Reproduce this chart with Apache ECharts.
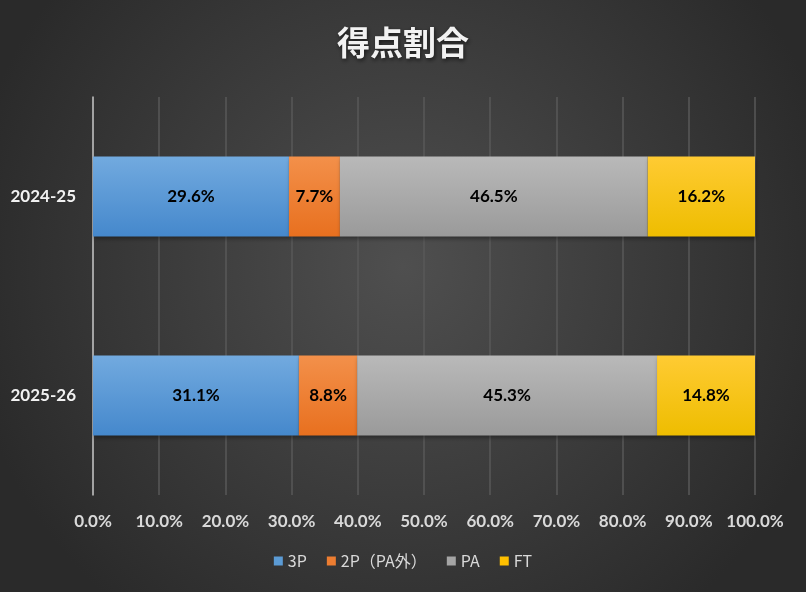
<!DOCTYPE html>
<html><head><meta charset="utf-8">
<script src="https://cdn.jsdelivr.net/npm/echarts@6/dist/echarts.min.js"></script>
<style>html,body{margin:0;padding:0;background:#404040;}#c{width:806px;height:592px;}</style>
</head><body><div id="c"></div>
<script>
const categories = ['2024-25', '2025-26'];
const seriesNames = ['3P', '2P（PA外）', 'PA', 'FT'];
const s3P = [29.6, 31.1];
const s2P = [7.7, 8.8];
const sPA = [46.5, 45.3];
const sFT = [16.2, 14.8];
const xTicks = [0, 10, 20, 30, 40, 50, 60, 70, 80, 90, 100];

const values = [s3P, s2P, sPA, sFT];
const colorsTop = ['#72aadf', '#f3904a', '#b9b9b9', '#ffcb33'];
const colorsBot = ['#4588cc', '#e8701f', '#9a9a9a', '#eebd00'];
const legendColors = ['#5b9bd5', '#ed7d31', '#a5a5a5', '#ffc000'];
const numFont = 'Lato';

const chart = echarts.init(document.getElementById('c'));
chart.setOption({
  backgroundColor: {
    type: 'radial', x: 0.5, y: 0.45, r: 0.75,
    colorStops: [{offset: 0, color: '#4f4f4f'}, {offset: 1, color: '#2a2a2a'}]
  },
  title: {
    text: '得点割合', left: 'center', top: 21,
    textStyle: {color: '#f2f2f2', fontSize: 33, fontWeight: 'bold', fontFamily: 'Noto Sans CJK JP',
      textShadowColor: 'rgba(0,0,0,0.6)', textShadowBlur: 4, textShadowOffsetX: 1, textShadowOffsetY: 2}
  },
  legend: {
    bottom: 18, left: 'center', itemWidth: 9, itemHeight: 9, itemGap: 20, icon: 'rect',
    textStyle: {color: '#d9d9d9', fontSize: 16, fontFamily: 'Noto Sans CJK JP'},
    data: seriesNames.map((n, i) => ({name: n, itemStyle: {color: legendColors[i]}}))
  },
  grid: {left: 93, right: 51, top: 97, bottom: 97},
  xAxis: {
    type: 'value', min: 0, max: 100, interval: 10,
    axisLine: {show: false}, axisTick: {show: false},
    splitLine: {lineStyle: {color: '#595959', width: 1.5}},
    axisLabel: {color: '#d9d9d9', fontSize: 17, fontWeight: 'bold', margin: 18, fontFamily: numFont,
      formatter: v => xTicks.includes(v) ? v.toFixed(1) + '%' : ''}
  },
  yAxis: {
    type: 'category', data: categories, inverse: true,
    axisLine: {show: true, lineStyle: {color: '#bfbfbf', width: 1.5}},
    axisTick: {show: false},
    axisLabel: {color: '#f2f2f2', fontSize: 17, fontWeight: 'bold', margin: 17, fontFamily: numFont}
  },
  series: seriesNames.map((n, i) => ({
    name: n, type: 'bar', stack: 'total', barWidth: 80, data: values[i],
    itemStyle: {
      color: {type: 'linear', x: 0, y: 0, x2: 0, y2: 1,
        colorStops: [{offset: 0, color: colorsTop[i]}, {offset: 1, color: colorsBot[i]}]},
      shadowColor: 'rgba(0,0,0,0.35)', shadowBlur: 4, shadowOffsetX: 1, shadowOffsetY: 2
    },
    label: {show: true, position: 'inside', color: '#000', fontSize: 17, fontWeight: 'bold', fontFamily: numFont,
      formatter: p => p.value.toFixed(1) + '%'}
  }))
});
</script></body></html>
